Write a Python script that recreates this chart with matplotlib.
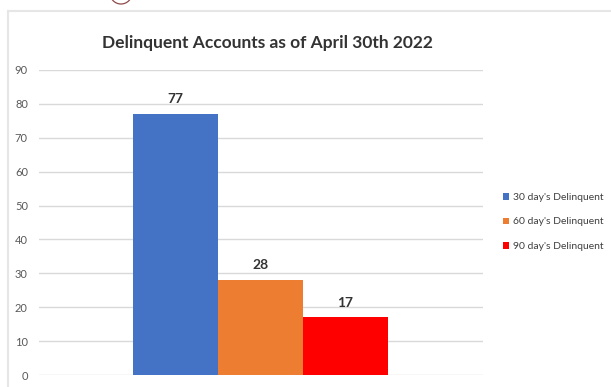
import matplotlib
matplotlib.use("Agg")
import matplotlib.pyplot as plt
from matplotlib.patches import Ellipse
from matplotlib.lines import Line2D

series = ["30 day's Delinquent", "60 day's Delinquent", "90 day's Delinquent"]
values = [77, 28, 17]
colors = ["#4472C4", "#ED7D31", "#FF0000"]
yticks = [0, 10, 20, 30, 40, 50, 60, 70, 80, 90]
title = "Delinquent Accounts as of April 30th 2022"

plt.rcParams["font.family"] = ["Lato", "DejaVu Sans"]

W, H = 611, 387
fig = plt.figure(figsize=(W / 100, H / 100), dpi=100)
fig.patch.set_facecolor("white")

# panel frame
fig.add_artist(Line2D([8 / W, 1.0], [1 - 11 / H, 1 - 11 / H], transform=fig.transFigure,
                      color="#E6E6E6", lw=1.5))
fig.add_artist(Line2D([8 / W, 8 / W], [0, 1 - 11 / H], transform=fig.transFigure,
                      color="#E6E6E6", lw=1.5))
# logo peeking in at the top
fig.add_artist(Ellipse((121 / W, 1 + 7 / H), 22 / W, 22 / H, transform=fig.transFigure,
                       facecolor="white", edgecolor="#8E4A4A", lw=0.9))

ax = fig.add_axes([39 / W, 1 - 375 / H, (483 - 39) / W, (375 - 70) / H])
xs = list(range(len(values)))
bars = ax.bar(xs, values, width=1.0, color=colors, label=series, zorder=3)
for b, v in zip(bars, values):
    ax.text(b.get_x() + b.get_width() / 2, v + 2.6, str(v), ha="center", va="bottom",
            fontsize=10, fontweight="bold", color="#333333")

ax.set_ylim(0, 90)
ax.set_yticks(yticks)
ax.set_xlim(-1.606, 3.618)
ax.set_xticks([])
ax.yaxis.grid(True, color="#D9D9D9", lw=1.0, zorder=0)
ax.tick_params(axis="y", length=0, labelsize=8, labelcolor="#595959", pad=8)
for s in ax.spines.values():
    s.set_visible(False)

fig.text(267 / W, 1 - 43 / H, title, ha="center", va="center", fontsize=12.5,
         fontweight="bold", color="#333333")

leg = fig.legend(handles=list(bars), labels=series, loc="center left",
                 bbox_to_anchor=(499 / W, 1 - 222 / H), frameon=False, fontsize=7.5,
                 handlelength=0.6, handleheight=0.6, handletextpad=0.3,
                 labelspacing=1.5, borderaxespad=0)
for t in leg.get_texts():
    t.set_color("#404040")

fig.savefig("out.png", dpi=100, facecolor="white")
